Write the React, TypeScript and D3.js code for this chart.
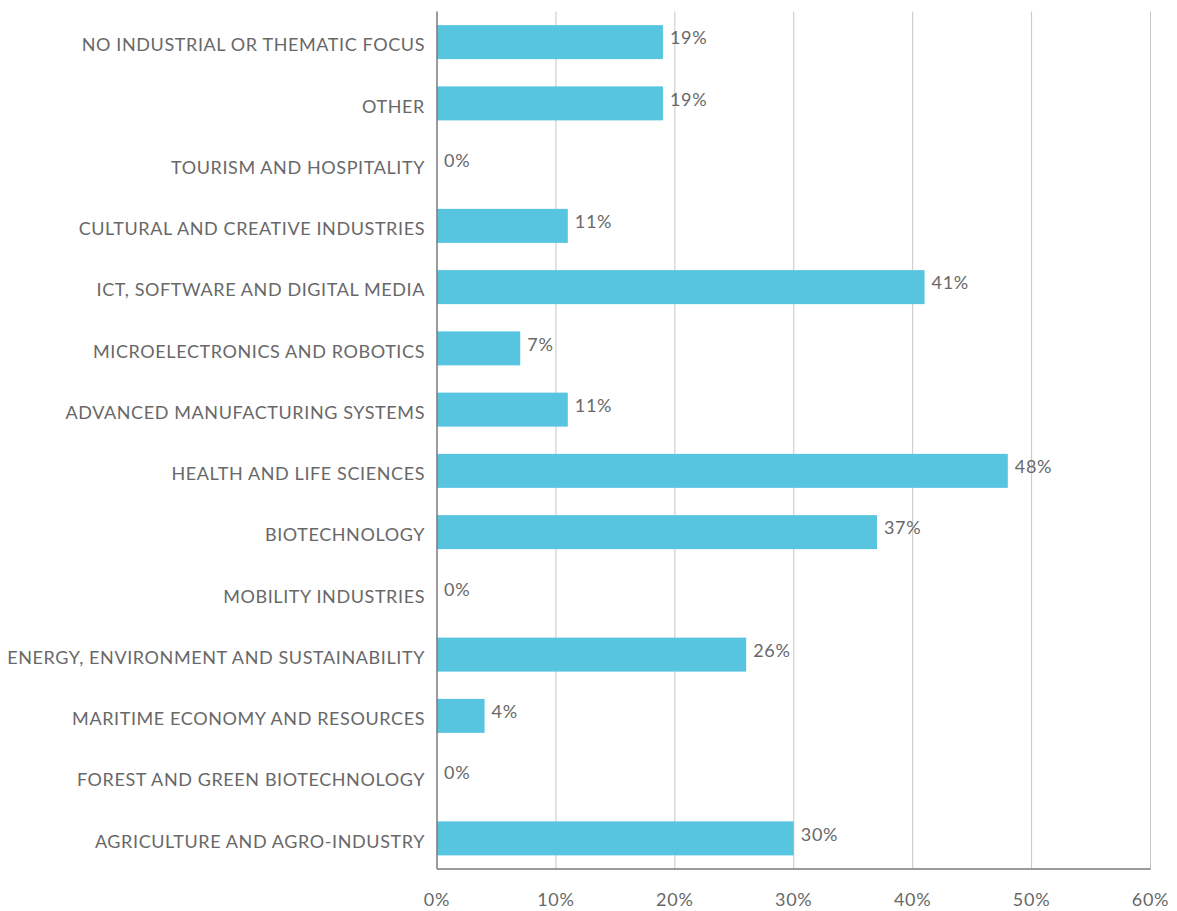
import React from "react";
import * as d3 from "d3";

const categories = [
  "NO INDUSTRIAL OR THEMATIC FOCUS",
  "OTHER",
  "TOURISM AND HOSPITALITY",
  "CULTURAL AND CREATIVE INDUSTRIES",
  "ICT, SOFTWARE AND DIGITAL MEDIA",
  "MICROELECTRONICS AND ROBOTICS",
  "ADVANCED MANUFACTURING SYSTEMS",
  "HEALTH AND LIFE SCIENCES",
  "BIOTECHNOLOGY",
  "MOBILITY INDUSTRIES",
  "ENERGY, ENVIRONMENT AND SUSTAINABILITY",
  "MARITIME ECONOMY AND RESOURCES",
  "FOREST AND GREEN BIOTECHNOLOGY",
  "AGRICULTURE AND AGRO-INDUSTRY",
];
const values = [19, 19, 0, 11, 41, 7, 11, 48, 37, 0, 26, 4, 0, 30];
const ticks = [0, 10, 20, 30, 40, 50, 60];

const W = 1177;
const H = 911;
const left = 437;
const right = 1150.5;
const top = 11.5;
const bottom = 869;
const font = "Lato, 'Open Sans', sans-serif";
const textColor = "#686868";

export default function App() {
  const x = d3.scaleLinear().domain([0, 60]).range([left, right]);
  const y = d3
    .scaleBand<string>()
    .domain(categories)
    .range([top, bottom])
    .paddingInner(0.445)
    .paddingOuter(0.2225);
  const bw = y.bandwidth();
  return (
    <svg
      width={W}
      height={H}
      style={{ position: "absolute", left: 0, top: 0 }}
      fontFamily={font}
      fontWeight={400}
    >
      {ticks.map((t) => (
        <g key={t}>
          {t > 0 && (
            <line
              x1={x(t)}
              x2={x(t)}
              y1={top}
              y2={bottom}
              stroke="#c6c6c6"
              strokeWidth={1}
            />
          )}
          <text
            x={x(t)}
            y={906}
            textAnchor="middle"
            fontSize={18}
            letterSpacing={0.7}
            fill={textColor}
          >
            {t}%
          </text>
        </g>
      ))}
      {categories.map((c, i) => {
        const cy = (y(c) as number) + bw / 2;
        return (
          <g key={c}>
            <rect
              x={x(0)}
              y={y(c)}
              width={x(values[i]) - x(0)}
              height={bw}
              fill="#57C5E0"
            />
            <text
              x={425}
              y={cy + 3}
              dy="0.35em"
              textAnchor="end"
              fontSize={18}
              letterSpacing={0.6}
              fill={textColor}
            >
              {c}
            </text>
            <text
              x={x(values[i]) + 7}
              y={cy - 4}
              dy="0.35em"
              fontSize={18}
              letterSpacing={0.7}
              fill={textColor}
            >
              {values[i]}%
            </text>
          </g>
        );
      })}
      <line
        x1={left}
        x2={right}
        y1={bottom}
        y2={bottom}
        stroke="#7a7a7a"
        strokeWidth={1.5}
      />
      <line
        x1={left}
        x2={left}
        y1={top}
        y2={bottom}
        stroke="#7a7a7a"
        strokeWidth={1.5}
      />
    </svg>
  );
}
